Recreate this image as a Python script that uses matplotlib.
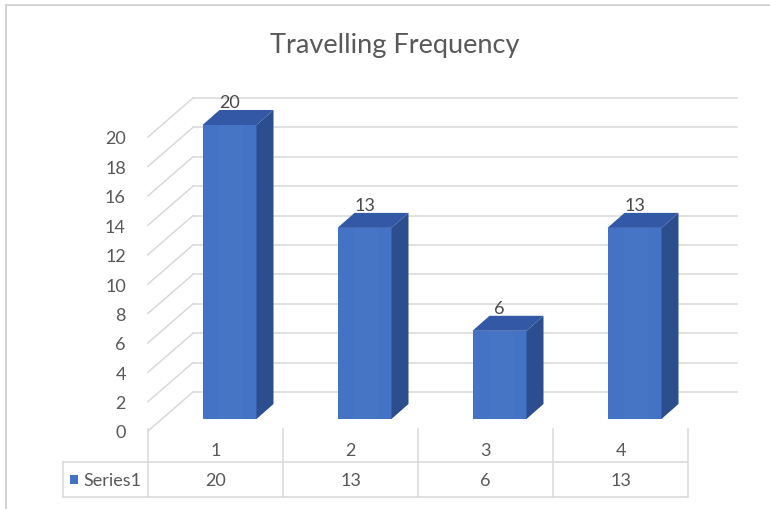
import matplotlib
matplotlib.use("Agg")
import matplotlib.pyplot as plt
from matplotlib.patches import Rectangle, Polygon
from matplotlib.lines import Line2D
import matplotlib.transforms as mtrans

# ---- data ----
categories = ["1", "2", "3", "4"]
values = [20, 13, 6, 13]
series_name = "Series1"
yticks = list(range(0, 21, 2))
title = "Travelling Frequency"

plt.rcParams['font.family'] = ['Lato', 'DejaVu Sans']

W, H = 770, 510
fig = plt.figure(figsize=(W / 100, H / 100), dpi=100)

def fx(px):
    return px / W

def fy(py):
    return 1 - py / H

# front plane of the 3D box
left_px, right_px, bot_px, top_px = 148, 688, 432, 138
ax = fig.add_axes([fx(left_px), fy(bot_px), (right_px - left_px) / W, (bot_px - top_px) / H])
ax.set_xlim(-0.5, len(categories) - 0.5)
ax.set_ylim(0, 20)
ax.patch.set_visible(False)
for s in ax.spines.values():
    s.set_visible(False)
ax.set_xticks([])
ax.set_yticks(yticks)
ax.tick_params(axis='y', length=0, pad=16, labelsize=13, labelcolor='#595959')

sx = (right_px - left_px) / (len(categories))   # px per x unit
sy = (bot_px - top_px) / 20.0                   # px per y unit

def dxu(px):
    return px / sx

def dyu(px):
    return px / sy

grid_c = '#D9D9D9'
# back wall and left wall gridlines
bwx, bwy = dxu(45), dyu(39)
xl, xr = ax.get_xlim()
for v in yticks:
    ax.plot([xl + bwx, xr + bwx + dxu(4)], [v + bwy, v + bwy], color=grid_c, lw=1.1,
            clip_on=False, zorder=1)
    ax.plot([xl, xl + bwx], [v, v + bwy], color=grid_c, lw=1.1, clip_on=False, zorder=1)

# bars
bpx, bpy = dxu(14), dyu(12)   # bar plane offset
ddx, ddy = dxu(17), dyu(15)   # bar depth
bw = 0.4
front_c, side_c, top_c = '#4472C4', '#2C4E8F', '#3358A6'
for i, v in enumerate(values):
    x0 = i - bw / 2 + bpx
    y0 = bpy
    ax.add_patch(Rectangle((x0, y0), bw, v, fc=front_c, ec='none', clip_on=False, zorder=3))
    # subtle lighter band in front face
    ax.add_patch(Rectangle((x0 + bw * 0.3, y0), bw * 0.45, v, fc='#4775C6', ec='none',
                           clip_on=False, zorder=3.1))
    ax.add_patch(Polygon([(x0 + bw, y0), (x0 + bw + ddx, y0 + ddy),
                          (x0 + bw + ddx, y0 + v + ddy), (x0 + bw, y0 + v)],
                         closed=True, fc=side_c, ec='none', clip_on=False, zorder=3))
    ax.add_patch(Polygon([(x0, y0 + v), (x0 + ddx, y0 + v + ddy),
                          (x0 + bw + ddx, y0 + v + ddy), (x0 + bw, y0 + v)],
                         closed=True, fc=top_c, ec='none', clip_on=False, zorder=3))
    ax.annotate(str(v), (i + bpx, v + bpy), xytext=(0, 23 * 0.72), textcoords='offset points',
                ha='center', va='center', fontsize=13, color='#4A4A4A', zorder=5,
                annotation_clip=False)

# data table
bt = mtrans.blended_transform_factory(ax.transData, fig.transFigure)
for i, (c, v) in enumerate(zip(categories, values)):
    ax.text(i, fy(451), c, transform=bt, ha='center', va='center', fontsize=13, color='#595959')
    ax.text(i, fy(481), str(v), transform=bt, ha='center', va='center', fontsize=13, color='#595959')
for xb in [xl + k for k in range(len(categories) + 1)]:
    ax.add_line(Line2D([xb, xb], [fy(430), fy(498)], transform=bt, color=grid_c, lw=1.1,
                       clip_on=False))
for yy in [463, 498]:
    fig.add_artist(Line2D([fx(63), fx(688)], [fy(yy), fy(yy)], transform=fig.transFigure,
                          color=grid_c, lw=1.1))
fig.add_artist(Line2D([fx(63), fx(63)], [fy(463), fy(498)], transform=fig.transFigure,
                      color=grid_c, lw=1.1))
fig.add_artist(Rectangle((fx(70), fy(485)), 8 / W, 9 / H, transform=fig.transFigure,
                         fc=front_c, ec='none'))
fig.text(fx(83), fy(481), series_name, ha='left', va='center', fontsize=13, color='#595959')

# title
fig.text(fx(394.5), fy(46), title, ha='center', va='center', fontsize=19.5, color='#595959')

# chart border
fig.add_artist(Rectangle((fx(6.5), -0.1), 1.2, fy(5.5) + 0.1, transform=fig.transFigure,
                         fill=False, ec='#D0D0D0', lw=1.3))

fig.savefig("out.png", dpi=100)
